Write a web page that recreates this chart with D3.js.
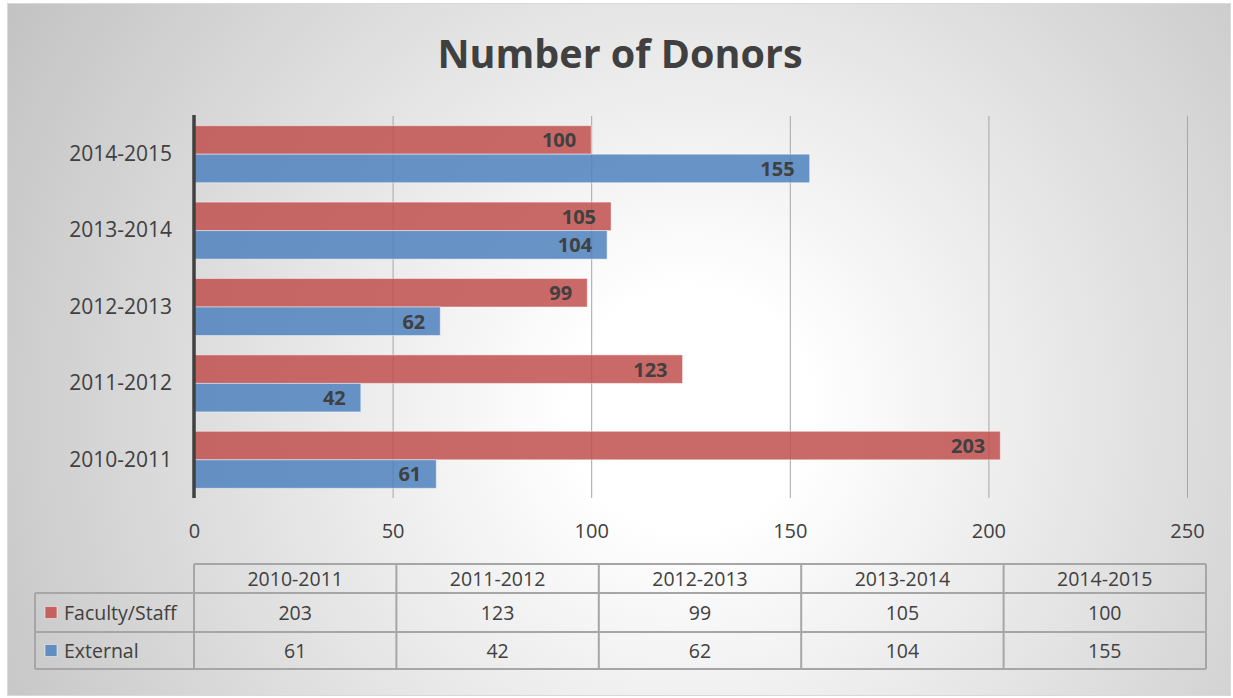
<!DOCTYPE html>
<html>
<head>
<meta charset="utf-8">
<script src="https://cdn.jsdelivr.net/npm/d3@7/dist/d3.min.js"></script>
<style>
  html, body { margin: 0; padding: 0; background: #ffffff; }
  svg { display: block; }
  text { font-family: "Open Sans", "DejaVu Sans", sans-serif; fill: #404040; }
</style>
</head>
<body>
<svg id="chart" width="1233" height="698"></svg>
<script>
// Fiscal years (bottom to top on the chart, left to right in the table)
const years = ["2010-2011", "2011-2012", "2012-2013", "2013-2014", "2014-2015"];
const seriesNames = ["Faculty/Staff", "External"];
const facultyStaff = [203, 123, 99, 105, 100];
const external = [61, 42, 62, 104, 155];
const seriesColors = ["#c0504d", "#4f81bd"];
const xTicks = [0, 50, 100, 150, 200, 250];

const seriesValues = [facultyStaff, external];
const rows = years.map((y, i) => ({
  year: y,
  values: seriesNames.map((s, k) => ({ series: s, value: seriesValues[k][i], color: seriesColors[k] }))
}));

const W = 1233, H = 698;
const svg = d3.select("#chart");

// Background with radial shading
const defs = svg.append("defs");
const grad = defs.append("radialGradient")
  .attr("id", "bg").attr("gradientUnits", "userSpaceOnUse")
  .attr("cx", 690).attr("cy", 410).attr("r", 800);
grad.append("stop").attr("offset", 0).attr("stop-color", "#ffffff");
grad.append("stop").attr("offset", 0.15).attr("stop-color", "#ffffff");
grad.append("stop").attr("offset", 1).attr("stop-color", "#c2c2c2");

svg.append("rect").attr("x", 7.5).attr("y", 3.5).attr("width", W - 10).attr("height", H - 6)
  .attr("fill", "url(#bg)").attr("stroke", "#d9d9d9").attr("stroke-width", 1);

// Title
svg.append("text").attr("x", 620).attr("y", 68).attr("text-anchor", "middle")
  .style("font-size", "39.5px").style("font-weight", "bold").text("Number of Donors");

// Plot area
const plot = { left: 194, right: 1187, top: 116, bottom: 498 };
const x = d3.scaleLinear().domain([0, 250]).range([plot.left, plot.right]);
const y = d3.scaleBand().domain(years.slice().reverse()).range([plot.top, plot.bottom]).padding(0);
const ySub = d3.scaleBand().domain(seriesNames).range([0, y.bandwidth()]).paddingInner(0).paddingOuter(0.34);

// Value axis labels
const xAxis = d3.axisBottom(x).tickValues(xTicks).tickSize(0).tickPadding(0);
const gx = svg.append("g").attr("transform", `translate(0,${plot.bottom})`).call(xAxis);
gx.select(".domain").remove();
gx.selectAll("text").attr("y", 40).attr("dy", 0).style("font-size", "20px").attr("fill", "#404040");

// Vertical gridlines
svg.append("g").selectAll("line").data(xTicks.filter(t => t > 0)).join("line")
  .attr("x1", d => x(d) + 0.5).attr("x2", d => x(d) + 0.5)
  .attr("y1", plot.top).attr("y2", plot.bottom)
  .attr("stroke", "#a6a6a6").attr("stroke-width", 1);

// Bars
const groups = svg.append("g").selectAll("g").data(rows).join("g")
  .attr("transform", d => `translate(0,${y(d.year)})`);

groups.selectAll("rect").data(d => d.values).join("rect")
  .attr("x", x(0))
  .attr("y", d => ySub(d.series))
  .attr("width", d => x(d.value) - x(0))
  .attr("height", ySub.bandwidth())
  .attr("fill", d => d.color).attr("fill-opacity", 0.85)
  .attr("stroke", "#ffffff").attr("stroke-opacity", 0.45).attr("stroke-width", 1);

groups.selectAll("text").data(d => d.values).join("text")
  .attr("x", d => x(d.value) - 15)
  .attr("y", d => ySub(d.series) + ySub.bandwidth() / 2)
  .attr("dy", "0.37em").attr("text-anchor", "end")
  .style("font-size", "20px").style("font-weight", "bold")
  .text(d => d.value);

// Category axis
const yAxis = d3.axisLeft(y).tickSize(0).tickPadding(22);
const gy = svg.append("g").attr("transform", `translate(${plot.left},0)`).call(yAxis);
gy.select(".domain").remove();
gy.selectAll("text").style("font-size", "21px").attr("fill", "#404040");
svg.append("line").attr("x1", plot.left).attr("x2", plot.left)
  .attr("y1", plot.top - 1).attr("y2", plot.bottom)
  .attr("stroke", "#404040").attr("stroke-width", 3.5);

// Data table
const tbl = { left: 35, colStart: plot.left, right: 1206, rowY: [564, 593, 632, 669] };
const col = d3.scaleBand().domain(years).range([tbl.colStart, tbl.right]);
const lineColor = "#a6a6a6";
const tg = svg.append("g");

// horizontal lines
tg.append("line").attr("x1", tbl.colStart).attr("x2", tbl.right).attr("y1", tbl.rowY[0]).attr("y2", tbl.rowY[0]);
[1, 2, 3].forEach(i => tg.append("line").attr("x1", tbl.left).attr("x2", tbl.right)
  .attr("y1", tbl.rowY[i]).attr("y2", tbl.rowY[i]));
// vertical lines
tg.append("line").attr("x1", tbl.left).attr("x2", tbl.left).attr("y1", tbl.rowY[1]).attr("y2", tbl.rowY[3]);
years.forEach(yr => tg.append("line").attr("x1", col(yr)).attr("x2", col(yr)).attr("y1", tbl.rowY[0]).attr("y2", tbl.rowY[3]));
tg.append("line").attr("x1", tbl.right).attr("x2", tbl.right).attr("y1", tbl.rowY[0]).attr("y2", tbl.rowY[3]);
tg.selectAll("line").attr("stroke", lineColor).attr("stroke-width", 2);

// header
tg.selectAll("text.hdr").data(years).join("text").attr("class", "hdr")
  .attr("x", d => col(d) + col.bandwidth() / 2)
  .attr("y", (tbl.rowY[0] + tbl.rowY[1]) / 2).attr("dy", "0.36em")
  .attr("text-anchor", "middle").style("font-size", "19.5px").text(d => d);

// series rows
seriesNames.forEach((s, k) => {
  const cy = (tbl.rowY[k + 1] + tbl.rowY[k + 2]) / 2;
  tg.append("rect").attr("x", 45).attr("y", cy - 6).attr("width", 12).attr("height", 12)
    .attr("fill", seriesColors[k]).attr("fill-opacity", 0.85)
    .attr("stroke", "#ffffff").attr("stroke-opacity", 0.5).attr("stroke-width", 1);
  tg.append("text").attr("x", 64).attr("y", cy).attr("dy", "0.36em")
    .style("font-size", "19.5px").text(s);
  tg.selectAll(`text.v${k}`).data(seriesValues[k]).join("text").attr("class", `v${k}`)
    .attr("x", (d, i) => col(years[i]) + col.bandwidth() / 2)
    .attr("y", cy).attr("dy", "0.36em").attr("text-anchor", "middle")
    .style("font-size", "19.5px").text(d => d);
});
</script>
</body>
</html>
